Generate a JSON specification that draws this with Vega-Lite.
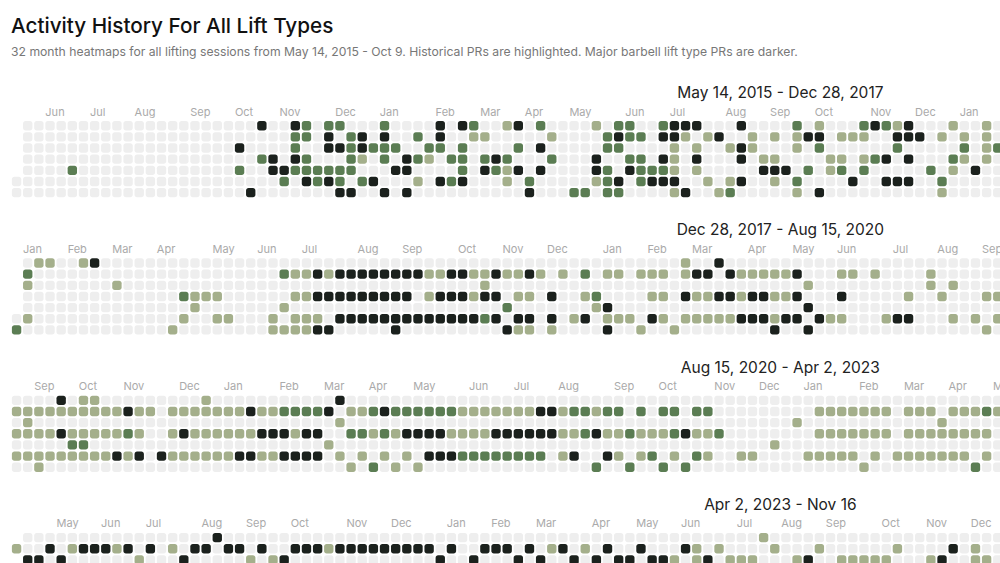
{
  "$schema": "https://vega.github.io/schema/vega-lite/v6.json",
  "padding": {"left": 11, "top": 16, "right": 0, "bottom": 0},
  "background": "#ffffff",
  "title": {
    "text": "Activity History For All Lift Types",
    "subtitle": "32 month heatmaps for all lifting sessions from May 14, 2015 - Oct 9. Historical PRs are highlighted. Major barbell lift type PRs are darker.",
    "anchor": "start",
    "font": "Inter",
    "fontSize": 20.7,
    "fontWeight": 500,
    "color": "#111111",
    "subtitleFont": "Inter",
    "subtitleFontSize": 12.2,
    "subtitleColor": "#777777",
    "subtitlePadding": 8,
    "offset": 27
  },
  "data": {"values": [
    {"p":1,"w":0,"th":0,"fr":0},
    {"p":1,"w":1,"sa":0,"su":0,"mo":0,"tu":0,"we":0,"th":0,"fr":0},
    {"p":1,"w":2,"sa":0,"su":0,"mo":0,"tu":0,"we":0,"th":0,"fr":0},
    {"p":1,"w":3,"m":"Jun","sa":0,"su":0,"mo":0,"tu":0,"we":0,"th":0,"fr":0},
    {"p":1,"w":4,"sa":0,"su":0,"mo":0,"tu":0,"we":0,"th":0,"fr":0},
    {"p":1,"w":5,"sa":0,"su":0,"mo":0,"tu":0,"we":2,"th":0,"fr":0},
    {"p":1,"w":6,"sa":0,"su":0,"mo":0,"tu":0,"we":0,"th":0,"fr":0},
    {"p":1,"w":7,"m":"Jul","sa":0,"su":0,"mo":0,"tu":0,"we":0,"th":0,"fr":0},
    {"p":1,"w":8,"sa":0,"su":0,"mo":0,"tu":0,"we":0,"th":0,"fr":0},
    {"p":1,"w":9,"sa":0,"su":0,"mo":0,"tu":0,"we":0,"th":0,"fr":0},
    {"p":1,"w":10,"sa":0,"su":0,"mo":0,"tu":0,"we":0,"th":0,"fr":0},
    {"p":1,"w":11,"m":"Aug","sa":0,"su":0,"mo":0,"tu":0,"we":0,"th":0,"fr":0},
    {"p":1,"w":12,"sa":0,"su":0,"mo":0,"tu":0,"we":0,"th":0,"fr":0},
    {"p":1,"w":13,"sa":0,"su":0,"mo":0,"tu":0,"we":0,"th":0,"fr":0},
    {"p":1,"w":14,"sa":0,"su":0,"mo":0,"tu":0,"we":0,"th":0,"fr":0},
    {"p":1,"w":15,"sa":0,"su":0,"mo":0,"tu":0,"we":0,"th":0,"fr":0},
    {"p":1,"w":16,"m":"Sep","sa":0,"su":0,"mo":0,"tu":0,"we":0,"th":0,"fr":0},
    {"p":1,"w":17,"sa":0,"su":0,"mo":0,"tu":0,"we":0,"th":0,"fr":0},
    {"p":1,"w":18,"sa":0,"su":0,"mo":0,"tu":0,"we":0,"th":0,"fr":0},
    {"p":1,"w":19,"sa":0,"su":0,"mo":0,"tu":0,"we":0,"th":0,"fr":0},
    {"p":1,"w":20,"m":"Oct","sa":0,"su":0,"mo":3,"tu":0,"we":2,"th":0,"fr":0},
    {"p":1,"w":21,"sa":0,"su":0,"mo":0,"tu":0,"we":0,"th":0,"fr":3},
    {"p":1,"w":22,"sa":3,"su":0,"mo":0,"tu":2,"we":0,"th":0,"fr":0},
    {"p":1,"w":23,"sa":0,"su":0,"mo":0,"tu":3,"we":3,"th":0,"fr":0},
    {"p":1,"w":24,"m":"Nov","sa":0,"su":0,"mo":0,"tu":0,"we":3,"th":2,"fr":0},
    {"p":1,"w":25,"sa":3,"su":2,"mo":2,"tu":3,"we":2,"th":0,"fr":0},
    {"p":1,"w":26,"sa":2,"su":2,"mo":0,"tu":2,"we":2,"th":3,"fr":0},
    {"p":1,"w":27,"sa":0,"su":0,"mo":0,"tu":0,"we":2,"th":2,"fr":0},
    {"p":1,"w":28,"sa":2,"su":3,"mo":3,"tu":0,"we":2,"th":3,"fr":0},
    {"p":1,"w":29,"m":"Dec","sa":2,"su":0,"mo":3,"tu":0,"we":2,"th":2,"fr":3},
    {"p":1,"w":30,"sa":0,"su":2,"mo":2,"tu":2,"we":2,"th":0,"fr":3},
    {"p":1,"w":31,"sa":0,"su":3,"mo":3,"tu":1,"we":0,"th":2,"fr":0},
    {"p":1,"w":32,"sa":0,"su":0,"mo":2,"tu":0,"we":0,"th":3,"fr":0},
    {"p":1,"w":33,"m":"Jan","sa":2,"su":3,"mo":2,"tu":2,"we":0,"th":0,"fr":3},
    {"p":1,"w":34,"sa":0,"su":0,"mo":2,"tu":0,"we":3,"th":0,"fr":0},
    {"p":1,"w":35,"sa":0,"su":0,"mo":0,"tu":3,"we":3,"th":0,"fr":3},
    {"p":1,"w":36,"sa":0,"su":2,"mo":0,"tu":2,"we":0,"th":1,"fr":0},
    {"p":1,"w":37,"sa":0,"su":0,"mo":2,"tu":1,"we":0,"th":0,"fr":0},
    {"p":1,"w":38,"m":"Feb","sa":3,"su":3,"mo":2,"tu":0,"we":0,"th":3,"fr":0},
    {"p":1,"w":39,"sa":0,"su":0,"mo":0,"tu":2,"we":0,"th":2,"fr":0},
    {"p":1,"w":40,"sa":3,"su":0,"mo":2,"tu":2,"we":2,"th":3,"fr":0},
    {"p":1,"w":41,"sa":2,"su":1,"mo":0,"tu":0,"we":0,"th":0,"fr":0},
    {"p":1,"w":42,"m":"Mar","sa":0,"su":1,"mo":0,"tu":2,"we":3,"th":0,"fr":0},
    {"p":1,"w":43,"sa":0,"su":0,"mo":0,"tu":3,"we":2,"th":0,"fr":0},
    {"p":1,"w":44,"sa":1,"su":0,"mo":0,"tu":2,"we":1,"th":1,"fr":0},
    {"p":1,"w":45,"sa":3,"su":0,"mo":2,"tu":0,"we":3,"th":0,"fr":0},
    {"p":1,"w":46,"m":"Apr","sa":0,"su":0,"mo":0,"tu":0,"we":0,"th":2,"fr":3},
    {"p":1,"w":47,"sa":2,"su":0,"mo":3,"tu":0,"we":3,"th":0,"fr":0},
    {"p":1,"w":48,"sa":0,"su":1,"mo":0,"tu":2,"we":0,"th":0,"fr":0},
    {"p":1,"w":49,"sa":0,"su":0,"mo":0,"tu":0,"we":0,"th":0,"fr":0},
    {"p":1,"w":50,"m":"May","sa":0,"su":0,"mo":0,"tu":0,"we":0,"th":0,"fr":2},
    {"p":1,"w":51,"sa":0,"su":0,"mo":0,"tu":0,"we":0,"th":0,"fr":2},
    {"p":1,"w":52,"sa":1,"su":0,"mo":0,"tu":3,"we":3,"th":1,"fr":0},
    {"p":1,"w":53,"sa":0,"su":2,"mo":2,"tu":0,"we":2,"th":2,"fr":2},
    {"p":1,"w":54,"sa":2,"su":3,"mo":2,"tu":0,"we":0,"th":3,"fr":2},
    {"p":1,"w":55,"m":"Jun","sa":2,"su":2,"mo":0,"tu":2,"we":3,"th":0,"fr":0},
    {"p":1,"w":56,"sa":0,"su":2,"mo":0,"tu":2,"we":2,"th":2,"fr":0},
    {"p":1,"w":57,"sa":0,"su":0,"mo":0,"tu":0,"we":2,"th":3,"fr":0},
    {"p":1,"w":58,"sa":2,"su":3,"mo":0,"tu":3,"we":2,"th":3,"fr":0},
    {"p":1,"w":59,"m":"Jul","sa":3,"su":3,"mo":1,"tu":1,"we":1,"th":3,"fr":1},
    {"p":1,"w":60,"sa":3,"su":1,"mo":0,"tu":0,"we":0,"th":0,"fr":3},
    {"p":1,"w":61,"sa":3,"su":0,"mo":1,"tu":3,"we":1,"th":0,"fr":0},
    {"p":1,"w":62,"sa":0,"su":1,"mo":0,"tu":0,"we":0,"th":1,"fr":0},
    {"p":1,"w":63,"sa":0,"su":3,"mo":0,"tu":0,"we":0,"th":0,"fr":1},
    {"p":1,"w":64,"m":"Aug","sa":0,"su":0,"mo":1,"tu":0,"we":0,"th":1,"fr":2},
    {"p":1,"w":65,"sa":3,"su":0,"mo":3,"tu":3,"we":0,"th":3,"fr":0},
    {"p":1,"w":66,"sa":0,"su":1,"mo":1,"tu":0,"we":0,"th":0,"fr":0},
    {"p":1,"w":67,"sa":0,"su":0,"mo":0,"tu":1,"we":3,"th":0,"fr":0},
    {"p":1,"w":68,"m":"Sep","sa":0,"su":1,"mo":0,"tu":1,"we":3,"th":1,"fr":0},
    {"p":1,"w":69,"sa":0,"su":0,"mo":0,"tu":0,"we":3,"th":0,"fr":0},
    {"p":1,"w":70,"sa":2,"su":1,"mo":1,"tu":0,"we":0,"th":2,"fr":1},
    {"p":1,"w":71,"sa":0,"su":3,"mo":0,"tu":0,"we":2,"th":0,"fr":0},
    {"p":1,"w":72,"m":"Oct","sa":1,"su":3,"mo":2,"tu":0,"we":0,"th":0,"fr":3},
    {"p":1,"w":73,"sa":0,"su":0,"mo":0,"tu":1,"we":1,"th":0,"fr":0},
    {"p":1,"w":74,"sa":0,"su":1,"mo":0,"tu":1,"we":2,"th":0,"fr":0},
    {"p":1,"w":75,"sa":0,"su":1,"mo":0,"tu":0,"we":0,"th":3,"fr":0},
    {"p":1,"w":76,"sa":2,"su":1,"mo":0,"tu":1,"we":2,"th":0,"fr":0},
    {"p":1,"w":77,"m":"Nov","sa":3,"su":0,"mo":0,"tu":2,"we":0,"th":0,"fr":0},
    {"p":1,"w":78,"sa":2,"su":0,"mo":0,"tu":3,"we":0,"th":3,"fr":0},
    {"p":1,"w":79,"sa":1,"su":3,"mo":2,"tu":0,"we":0,"th":3,"fr":0},
    {"p":1,"w":80,"sa":3,"su":3,"mo":0,"tu":3,"we":0,"th":3,"fr":0},
    {"p":1,"w":81,"m":"Dec","sa":0,"su":3,"mo":0,"tu":0,"we":0,"th":0,"fr":0},
    {"p":1,"w":82,"sa":0,"su":0,"mo":0,"tu":0,"we":2,"th":0,"fr":0},
    {"p":1,"w":83,"sa":0,"su":1,"mo":0,"tu":0,"we":0,"th":2,"fr":1},
    {"p":1,"w":84,"sa":1,"su":0,"mo":0,"tu":2,"we":1,"th":0,"fr":0},
    {"p":1,"w":85,"m":"Jan","sa":0,"su":1,"mo":2,"tu":1,"we":0,"th":0,"fr":0},
    {"p":1,"w":86,"sa":0,"su":0,"mo":0,"tu":0,"we":3,"th":0,"fr":0},
    {"p":1,"w":87,"sa":1,"su":1,"mo":1,"tu":1,"we":0,"th":0,"fr":0},
    {"p":1,"w":88,"sa":0,"su":0,"mo":2,"tu":0,"we":0,"th":0,"fr":0},

    {"p":2,"w":0,"th":0,"fr":2},
    {"p":2,"w":1,"m":"Jan","sa":0,"su":2,"mo":1,"tu":0,"we":0,"th":1,"fr":0},
    {"p":2,"w":2,"sa":1,"su":0,"mo":0,"tu":0,"we":0,"th":0,"fr":0},
    {"p":2,"w":3,"sa":1,"su":0,"mo":0,"tu":0,"we":0,"th":0,"fr":0},
    {"p":2,"w":4,"sa":0,"su":0,"mo":0,"tu":0,"we":0,"th":0,"fr":0},
    {"p":2,"w":5,"m":"Feb","sa":0,"su":0,"mo":0,"tu":0,"we":0,"th":0,"fr":0},
    {"p":2,"w":6,"sa":1,"su":0,"mo":0,"tu":0,"we":0,"th":0,"fr":0},
    {"p":2,"w":7,"sa":3,"su":0,"mo":0,"tu":0,"we":0,"th":0,"fr":0},
    {"p":2,"w":8,"sa":0,"su":0,"mo":0,"tu":0,"we":0,"th":0,"fr":0},
    {"p":2,"w":9,"m":"Mar","sa":0,"su":0,"mo":1,"tu":0,"we":0,"th":0,"fr":0},
    {"p":2,"w":10,"sa":0,"su":0,"mo":0,"tu":0,"we":0,"th":0,"fr":0},
    {"p":2,"w":11,"sa":0,"su":0,"mo":0,"tu":0,"we":0,"th":0,"fr":0},
    {"p":2,"w":12,"sa":0,"su":0,"mo":0,"tu":0,"we":0,"th":0,"fr":0},
    {"p":2,"w":13,"m":"Apr","sa":0,"su":0,"mo":0,"tu":0,"we":0,"th":0,"fr":0},
    {"p":2,"w":14,"sa":0,"su":0,"mo":0,"tu":0,"we":0,"th":0,"fr":1},
    {"p":2,"w":15,"sa":0,"su":0,"mo":0,"tu":2,"we":0,"th":1,"fr":0},
    {"p":2,"w":16,"sa":0,"su":0,"mo":0,"tu":1,"we":1,"th":0,"fr":0},
    {"p":2,"w":17,"sa":0,"su":0,"mo":0,"tu":1,"we":0,"th":0,"fr":0},
    {"p":2,"w":18,"m":"May","sa":0,"su":0,"mo":0,"tu":1,"we":0,"th":1,"fr":0},
    {"p":2,"w":19,"sa":0,"su":0,"mo":0,"tu":0,"we":0,"th":1,"fr":0},
    {"p":2,"w":20,"sa":0,"su":0,"mo":0,"tu":0,"we":0,"th":0,"fr":0},
    {"p":2,"w":21,"sa":0,"su":0,"mo":0,"tu":0,"we":0,"th":0,"fr":0},
    {"p":2,"w":22,"m":"Jun","sa":0,"su":0,"mo":0,"tu":0,"we":0,"th":0,"fr":0},
    {"p":2,"w":23,"sa":0,"su":0,"mo":0,"tu":0,"we":0,"th":1,"fr":1},
    {"p":2,"w":24,"sa":0,"su":2,"mo":0,"tu":0,"we":1,"th":0,"fr":1},
    {"p":2,"w":25,"sa":0,"su":1,"mo":0,"tu":1,"we":0,"th":1,"fr":1},
    {"p":2,"w":26,"m":"Jul","sa":0,"su":1,"mo":0,"tu":1,"we":0,"th":1,"fr":1},
    {"p":2,"w":27,"sa":0,"su":3,"mo":0,"tu":3,"we":0,"th":1,"fr":3},
    {"p":2,"w":28,"sa":0,"su":1,"mo":0,"tu":3,"we":0,"th":0,"fr":3},
    {"p":2,"w":29,"sa":0,"su":3,"mo":0,"tu":3,"we":0,"th":3,"fr":0},
    {"p":2,"w":30,"sa":0,"su":3,"mo":0,"tu":3,"we":0,"th":3,"fr":0},
    {"p":2,"w":31,"m":"Aug","sa":0,"su":3,"mo":0,"tu":3,"we":0,"th":3,"fr":0},
    {"p":2,"w":32,"sa":0,"su":3,"mo":0,"tu":3,"we":0,"th":3,"fr":0},
    {"p":2,"w":33,"sa":0,"su":3,"mo":0,"tu":3,"we":0,"th":3,"fr":0},
    {"p":2,"w":34,"sa":0,"su":3,"mo":0,"tu":3,"we":0,"th":3,"fr":3},
    {"p":2,"w":35,"m":"Sep","sa":0,"su":3,"mo":0,"tu":3,"we":0,"th":3,"fr":0},
    {"p":2,"w":36,"sa":0,"su":3,"mo":0,"tu":0,"we":0,"th":3,"fr":0},
    {"p":2,"w":37,"sa":0,"su":1,"mo":0,"tu":1,"we":0,"th":3,"fr":0},
    {"p":2,"w":38,"sa":0,"su":1,"mo":0,"tu":3,"we":0,"th":3,"fr":0},
    {"p":2,"w":39,"sa":0,"su":3,"mo":0,"tu":3,"we":0,"th":3,"fr":0},
    {"p":2,"w":40,"m":"Oct","sa":0,"su":3,"mo":0,"tu":3,"we":0,"th":3,"fr":0},
    {"p":2,"w":41,"sa":0,"su":1,"mo":0,"tu":1,"we":0,"th":3,"fr":0},
    {"p":2,"w":42,"sa":0,"su":1,"mo":1,"tu":3,"we":0,"th":2,"fr":0},
    {"p":2,"w":43,"sa":0,"su":3,"mo":0,"tu":3,"we":0,"th":3,"fr":0},
    {"p":2,"w":44,"m":"Nov","sa":0,"su":1,"mo":0,"tu":0,"we":2,"th":0,"fr":3},
    {"p":2,"w":45,"sa":0,"su":1,"mo":0,"tu":1,"we":0,"th":3,"fr":1},
    {"p":2,"w":46,"sa":0,"su":3,"mo":0,"tu":1,"we":0,"th":3,"fr":1},
    {"p":2,"w":47,"sa":0,"su":1,"mo":0,"tu":0,"we":0,"th":0,"fr":0},
    {"p":2,"w":48,"m":"Dec","sa":0,"su":0,"mo":0,"tu":3,"we":0,"th":3,"fr":1},
    {"p":2,"w":49,"sa":0,"su":1,"mo":0,"tu":0,"we":0,"th":0,"fr":0},
    {"p":2,"w":50,"sa":0,"su":0,"mo":0,"tu":0,"we":0,"th":1,"fr":0},
    {"p":2,"w":51,"sa":0,"su":2,"mo":0,"tu":1,"we":0,"th":3,"fr":0},
    {"p":2,"w":52,"sa":0,"su":0,"mo":0,"tu":2,"we":1,"th":0,"fr":0},
    {"p":2,"w":53,"m":"Jan","sa":0,"su":1,"mo":0,"tu":0,"we":3,"th":1,"fr":3},
    {"p":2,"w":54,"sa":0,"su":1,"mo":0,"tu":0,"we":0,"th":1,"fr":0},
    {"p":2,"w":55,"sa":0,"su":0,"mo":0,"tu":0,"we":0,"th":1,"fr":0},
    {"p":2,"w":56,"sa":0,"su":1,"mo":0,"tu":0,"we":0,"th":0,"fr":1},
    {"p":2,"w":57,"m":"Feb","sa":0,"su":1,"mo":0,"tu":1,"we":0,"th":3,"fr":0},
    {"p":2,"w":58,"sa":0,"su":1,"mo":0,"tu":1,"we":0,"th":1,"fr":0},
    {"p":2,"w":59,"sa":0,"su":0,"mo":0,"tu":0,"we":0,"th":0,"fr":1},
    {"p":2,"w":60,"sa":1,"su":1,"mo":0,"tu":3,"we":0,"th":1,"fr":0},
    {"p":2,"w":61,"m":"Mar","sa":0,"su":3,"mo":0,"tu":1,"we":0,"th":1,"fr":0},
    {"p":2,"w":62,"sa":0,"su":3,"mo":0,"tu":1,"we":0,"th":1,"fr":0},
    {"p":2,"w":63,"sa":3,"su":0,"mo":0,"tu":3,"we":0,"th":1,"fr":0},
    {"p":2,"w":64,"sa":0,"su":3,"mo":0,"tu":3,"we":0,"th":1,"fr":0},
    {"p":2,"w":65,"sa":0,"su":1,"mo":0,"tu":1,"we":0,"th":3,"fr":0},
    {"p":2,"w":66,"m":"Apr","sa":0,"su":1,"mo":0,"tu":3,"we":0,"th":3,"fr":0},
    {"p":2,"w":67,"sa":0,"su":1,"mo":0,"tu":3,"we":0,"th":3,"fr":0},
    {"p":2,"w":68,"sa":0,"su":1,"mo":0,"tu":1,"we":0,"th":1,"fr":3},
    {"p":2,"w":69,"sa":0,"su":1,"mo":0,"tu":1,"we":0,"th":3,"fr":0},
    {"p":2,"w":70,"m":"May","sa":0,"su":3,"mo":0,"tu":3,"we":0,"th":3,"fr":0},
    {"p":2,"w":71,"sa":0,"su":0,"mo":1,"tu":0,"we":3,"th":0,"fr":3},
    {"p":2,"w":72,"sa":0,"su":0,"mo":0,"tu":0,"we":0,"th":3,"fr":0},
    {"p":2,"w":73,"sa":0,"su":0,"mo":0,"tu":0,"we":0,"th":1,"fr":0},
    {"p":2,"w":74,"m":"Jun","sa":0,"su":1,"mo":0,"tu":3,"we":0,"th":1,"fr":0},
    {"p":2,"w":75,"sa":0,"su":1,"mo":0,"tu":0,"we":0,"th":0,"fr":0},
    {"p":2,"w":76,"sa":0,"su":0,"mo":0,"tu":0,"we":0,"th":0,"fr":0},
    {"p":2,"w":77,"sa":0,"su":1,"mo":0,"tu":0,"we":0,"th":0,"fr":0},
    {"p":2,"w":78,"sa":0,"su":0,"mo":0,"tu":0,"we":0,"th":1,"fr":0},
    {"p":2,"w":79,"m":"Jul","sa":0,"su":0,"mo":0,"tu":0,"we":0,"th":3,"fr":0},
    {"p":2,"w":80,"sa":0,"su":0,"mo":0,"tu":1,"we":0,"th":3,"fr":0},
    {"p":2,"w":81,"sa":0,"su":0,"mo":0,"tu":0,"we":0,"th":0,"fr":0},
    {"p":2,"w":82,"sa":0,"su":1,"mo":1,"tu":0,"we":0,"th":0,"fr":0},
    {"p":2,"w":83,"m":"Aug","sa":0,"su":0,"mo":0,"tu":1,"we":0,"th":0,"fr":0},
    {"p":2,"w":84,"sa":0,"su":0,"mo":1,"tu":0,"we":0,"th":1,"fr":0},
    {"p":2,"w":85,"sa":0,"su":0,"mo":0,"tu":0,"we":0,"th":0,"fr":0},
    {"p":2,"w":86,"sa":0,"su":0,"mo":0,"tu":0,"we":0,"th":1,"fr":0},
    {"p":2,"w":87,"m":"Sep","sa":0,"su":0,"mo":0,"tu":1,"we":0,"th":0,"fr":1},
    {"p":2,"w":88,"sa":0,"su":0,"mo":0,"tu":1,"we":0,"th":1,"fr":0},

    {"p":3,"w":0,"sa":0,"su":1,"mo":0,"tu":1,"we":0,"th":1,"fr":0},
    {"p":3,"w":1,"sa":0,"su":1,"mo":1,"tu":1,"we":0,"th":1,"fr":0},
    {"p":3,"w":2,"m":"Sep","sa":0,"su":1,"mo":0,"tu":1,"we":0,"th":1,"fr":1},
    {"p":3,"w":3,"sa":0,"su":1,"mo":0,"tu":1,"we":0,"th":1,"fr":0},
    {"p":3,"w":4,"sa":3,"su":1,"mo":0,"tu":3,"we":0,"th":1,"fr":0},
    {"p":3,"w":5,"sa":0,"su":1,"mo":0,"tu":1,"we":2,"th":1,"fr":0},
    {"p":3,"w":6,"m":"Oct","sa":1,"su":1,"mo":0,"tu":1,"we":2,"th":1,"fr":0},
    {"p":3,"w":7,"sa":1,"su":1,"mo":0,"tu":1,"we":0,"th":1,"fr":0},
    {"p":3,"w":8,"sa":0,"su":1,"mo":0,"tu":1,"we":0,"th":1,"fr":0},
    {"p":3,"w":9,"sa":0,"su":1,"mo":0,"tu":1,"we":0,"th":3,"fr":0},
    {"p":3,"w":10,"m":"Nov","sa":0,"su":3,"mo":0,"tu":2,"we":0,"th":1,"fr":0},
    {"p":3,"w":11,"sa":0,"su":1,"mo":0,"tu":1,"we":0,"th":3,"fr":0},
    {"p":3,"w":12,"sa":0,"su":1,"mo":0,"tu":0,"we":0,"th":0,"fr":0},
    {"p":3,"w":13,"sa":0,"su":0,"mo":0,"tu":0,"we":0,"th":3,"fr":0},
    {"p":3,"w":14,"sa":0,"su":1,"mo":0,"tu":1,"we":0,"th":1,"fr":0},
    {"p":3,"w":15,"m":"Dec","sa":0,"su":1,"mo":0,"tu":3,"we":0,"th":1,"fr":0},
    {"p":3,"w":16,"sa":0,"su":1,"mo":0,"tu":1,"we":0,"th":1,"fr":0},
    {"p":3,"w":17,"sa":1,"su":1,"mo":0,"tu":1,"we":0,"th":1,"fr":0},
    {"p":3,"w":18,"sa":0,"su":1,"mo":0,"tu":1,"we":0,"th":1,"fr":0},
    {"p":3,"w":19,"m":"Jan","sa":0,"su":1,"mo":0,"tu":1,"we":0,"th":1,"fr":0},
    {"p":3,"w":20,"sa":0,"su":1,"mo":0,"tu":1,"we":0,"th":3,"fr":0},
    {"p":3,"w":21,"sa":0,"su":3,"mo":0,"tu":1,"we":0,"th":3,"fr":0},
    {"p":3,"w":22,"sa":0,"su":1,"mo":0,"tu":3,"we":0,"th":1,"fr":0},
    {"p":3,"w":23,"sa":0,"su":1,"mo":0,"tu":3,"we":0,"th":1,"fr":0},
    {"p":3,"w":24,"m":"Feb","sa":0,"su":2,"mo":0,"tu":3,"we":0,"th":3,"fr":0},
    {"p":3,"w":25,"sa":0,"su":2,"mo":0,"tu":1,"we":0,"th":3,"fr":0},
    {"p":3,"w":26,"sa":0,"su":2,"mo":0,"tu":3,"we":0,"th":3,"fr":0},
    {"p":3,"w":27,"sa":0,"su":2,"mo":0,"tu":3,"we":0,"th":3,"fr":0},
    {"p":3,"w":28,"m":"Mar","sa":0,"su":3,"mo":0,"tu":0,"we":1,"th":0,"fr":0},
    {"p":3,"w":29,"sa":3,"su":0,"mo":1,"tu":0,"we":0,"th":1,"fr":0},
    {"p":3,"w":30,"sa":0,"su":1,"mo":0,"tu":2,"we":0,"th":0,"fr":1},
    {"p":3,"w":31,"sa":0,"su":1,"mo":0,"tu":2,"we":0,"th":1,"fr":0},
    {"p":3,"w":32,"m":"Apr","sa":0,"su":2,"mo":0,"tu":1,"we":0,"th":0,"fr":2},
    {"p":3,"w":33,"sa":0,"su":3,"mo":0,"tu":2,"we":0,"th":1,"fr":0},
    {"p":3,"w":34,"sa":0,"su":2,"mo":0,"tu":1,"we":0,"th":0,"fr":1},
    {"p":3,"w":35,"sa":0,"su":2,"mo":0,"tu":3,"we":0,"th":1,"fr":0},
    {"p":3,"w":36,"m":"May","sa":0,"su":2,"mo":0,"tu":3,"we":0,"th":0,"fr":1},
    {"p":3,"w":37,"sa":0,"su":2,"mo":0,"tu":3,"we":0,"th":3,"fr":0},
    {"p":3,"w":38,"sa":0,"su":2,"mo":0,"tu":3,"we":0,"th":3,"fr":0},
    {"p":3,"w":39,"sa":0,"su":2,"mo":0,"tu":1,"we":0,"th":3,"fr":0},
    {"p":3,"w":40,"sa":0,"su":1,"mo":0,"tu":1,"we":0,"th":2,"fr":0},
    {"p":3,"w":41,"m":"Jun","sa":0,"su":1,"mo":0,"tu":1,"we":0,"th":2,"fr":0},
    {"p":3,"w":42,"sa":0,"su":1,"mo":0,"tu":1,"we":0,"th":2,"fr":0},
    {"p":3,"w":43,"sa":0,"su":1,"mo":0,"tu":3,"we":0,"th":2,"fr":0},
    {"p":3,"w":44,"sa":0,"su":1,"mo":0,"tu":3,"we":0,"th":2,"fr":0},
    {"p":3,"w":45,"m":"Jul","sa":0,"su":1,"mo":0,"tu":3,"we":0,"th":2,"fr":0},
    {"p":3,"w":46,"sa":0,"su":1,"mo":0,"tu":3,"we":0,"th":2,"fr":0},
    {"p":3,"w":47,"sa":0,"su":3,"mo":0,"tu":3,"we":0,"th":2,"fr":0},
    {"p":3,"w":48,"sa":0,"su":3,"mo":0,"tu":3,"we":0,"th":0,"fr":0},
    {"p":3,"w":49,"m":"Aug","sa":0,"su":1,"mo":0,"tu":1,"we":0,"th":1,"fr":0},
    {"p":3,"w":50,"sa":0,"su":2,"mo":0,"tu":1,"we":0,"th":3,"fr":0},
    {"p":3,"w":51,"sa":0,"su":2,"mo":0,"tu":2,"we":0,"th":0,"fr":0},
    {"p":3,"w":52,"sa":0,"su":1,"mo":0,"tu":3,"we":0,"th":0,"fr":2},
    {"p":3,"w":53,"sa":0,"su":2,"mo":0,"tu":1,"we":0,"th":3,"fr":0},
    {"p":3,"w":54,"m":"Sep","sa":0,"su":2,"mo":0,"tu":1,"we":0,"th":1,"fr":0},
    {"p":3,"w":55,"sa":0,"su":0,"mo":0,"tu":2,"we":0,"th":0,"fr":2},
    {"p":3,"w":56,"sa":0,"su":2,"mo":0,"tu":1,"we":0,"th":1,"fr":0},
    {"p":3,"w":57,"sa":0,"su":0,"mo":0,"tu":1,"we":0,"th":2,"fr":0},
    {"p":3,"w":58,"m":"Oct","sa":0,"su":2,"mo":0,"tu":1,"we":0,"th":0,"fr":2},
    {"p":3,"w":59,"sa":0,"su":2,"mo":0,"tu":2,"we":0,"th":1,"fr":0},
    {"p":3,"w":60,"sa":0,"su":0,"mo":0,"tu":3,"we":0,"th":0,"fr":2},
    {"p":3,"w":61,"sa":0,"su":2,"mo":0,"tu":1,"we":0,"th":2,"fr":0},
    {"p":3,"w":62,"sa":0,"su":2,"mo":0,"tu":1,"we":0,"th":1,"fr":0},
    {"p":3,"w":63,"m":"Nov","sa":0,"su":0,"mo":0,"tu":2,"we":0,"th":0,"fr":0},
    {"p":3,"w":64,"sa":0,"su":0,"mo":0,"tu":0,"we":0,"th":0,"fr":0},
    {"p":3,"w":65,"sa":0,"su":0,"mo":0,"tu":0,"we":0,"th":1,"fr":0},
    {"p":3,"w":66,"sa":0,"su":0,"mo":0,"tu":0,"we":0,"th":1,"fr":0},
    {"p":3,"w":67,"m":"Dec","sa":0,"su":0,"mo":0,"tu":0,"we":0,"th":0,"fr":0},
    {"p":3,"w":68,"sa":0,"su":0,"mo":0,"tu":0,"we":1,"th":0,"fr":0},
    {"p":3,"w":69,"sa":0,"su":0,"mo":0,"tu":0,"we":0,"th":0,"fr":0},
    {"p":3,"w":70,"sa":0,"su":0,"mo":1,"tu":0,"we":0,"th":0,"fr":0},
    {"p":3,"w":71,"m":"Jan","sa":0,"su":0,"mo":0,"tu":0,"we":0,"th":1,"fr":0},
    {"p":3,"w":72,"sa":0,"su":1,"mo":0,"tu":1,"we":0,"th":1,"fr":0},
    {"p":3,"w":73,"sa":0,"su":1,"mo":0,"tu":1,"we":0,"th":1,"fr":0},
    {"p":3,"w":74,"sa":0,"su":1,"mo":0,"tu":1,"we":0,"th":1,"fr":0},
    {"p":3,"w":75,"sa":0,"su":1,"mo":0,"tu":1,"we":0,"th":1,"fr":0},
    {"p":3,"w":76,"m":"Feb","sa":0,"su":1,"mo":0,"tu":1,"we":0,"th":0,"fr":1},
    {"p":3,"w":77,"sa":0,"su":1,"mo":0,"tu":1,"we":0,"th":1,"fr":0},
    {"p":3,"w":78,"sa":0,"su":1,"mo":0,"tu":1,"we":0,"th":0,"fr":0},
    {"p":3,"w":79,"sa":0,"su":0,"mo":0,"tu":0,"we":0,"th":1,"fr":0},
    {"p":3,"w":80,"m":"Mar","sa":0,"su":1,"mo":0,"tu":1,"we":0,"th":1,"fr":0},
    {"p":3,"w":81,"sa":0,"su":1,"mo":0,"tu":1,"we":0,"th":1,"fr":0},
    {"p":3,"w":82,"sa":0,"su":1,"mo":0,"tu":1,"we":0,"th":1,"fr":0},
    {"p":3,"w":83,"sa":0,"su":0,"mo":1,"tu":1,"we":0,"th":1,"fr":0},
    {"p":3,"w":84,"m":"Apr","sa":0,"su":1,"mo":0,"tu":1,"we":0,"th":1,"fr":0},
    {"p":3,"w":85,"sa":0,"su":1,"mo":0,"tu":1,"we":0,"th":1,"fr":0},
    {"p":3,"w":86,"sa":0,"su":1,"mo":0,"tu":1,"we":0,"th":0,"fr":2},
    {"p":3,"w":87,"sa":0,"su":2,"mo":0,"tu":1,"we":0,"th":1,"fr":0},
    {"p":3,"w":88,"m":"May","sa":0,"su":1,"mo":0,"tu":0,"we":0,"th":0,"fr":0},

    {"p":4,"w":0,"su":1},
    {"p":4,"w":1,"sa":0,"su":0,"mo":3,"tu":0,"we":0,"th":0,"fr":0},
    {"p":4,"w":2,"sa":0,"su":0,"mo":3,"tu":0,"we":0,"th":0,"fr":0},
    {"p":4,"w":3,"sa":0,"su":3,"mo":0,"tu":0,"we":0,"th":0,"fr":0},
    {"p":4,"w":4,"m":"May","sa":0,"su":0,"mo":3,"tu":0,"we":0,"th":0,"fr":0},
    {"p":4,"w":5,"sa":0,"su":1,"mo":0,"tu":0,"we":0,"th":0,"fr":0},
    {"p":4,"w":6,"sa":0,"su":3,"mo":0,"tu":0,"we":0,"th":0,"fr":0},
    {"p":4,"w":7,"sa":0,"su":3,"mo":0,"tu":0,"we":0,"th":0,"fr":0},
    {"p":4,"w":8,"m":"Jun","sa":0,"su":3,"mo":0,"tu":0,"we":0,"th":0,"fr":0},
    {"p":4,"w":9,"sa":0,"su":1,"mo":0,"tu":0,"we":0,"th":0,"fr":0},
    {"p":4,"w":10,"sa":0,"su":3,"mo":0,"tu":0,"we":0,"th":0,"fr":0},
    {"p":4,"w":11,"sa":0,"su":0,"mo":1,"tu":0,"we":0,"th":0,"fr":0},
    {"p":4,"w":12,"m":"Jul","sa":0,"su":3,"mo":0,"tu":0,"we":0,"th":0,"fr":0},
    {"p":4,"w":13,"sa":0,"su":0,"mo":0,"tu":0,"we":0,"th":0,"fr":0},
    {"p":4,"w":14,"sa":0,"su":1,"mo":0,"tu":0,"we":0,"th":0,"fr":0},
    {"p":4,"w":15,"sa":0,"su":0,"mo":3,"tu":0,"we":0,"th":0,"fr":0},
    {"p":4,"w":16,"sa":0,"su":3,"mo":0,"tu":0,"we":0,"th":0,"fr":0},
    {"p":4,"w":17,"m":"Aug","sa":0,"su":3,"mo":0,"tu":0,"we":0,"th":0,"fr":0},
    {"p":4,"w":18,"sa":3,"su":0,"mo":0,"tu":0,"we":0,"th":0,"fr":0},
    {"p":4,"w":19,"sa":0,"su":3,"mo":0,"tu":0,"we":0,"th":0,"fr":0},
    {"p":4,"w":20,"sa":0,"su":3,"mo":0,"tu":0,"we":0,"th":0,"fr":0},
    {"p":4,"w":21,"m":"Sep","sa":0,"su":0,"mo":1,"tu":0,"we":0,"th":0,"fr":0},
    {"p":4,"w":22,"sa":0,"su":3,"mo":0,"tu":0,"we":0,"th":0,"fr":0},
    {"p":4,"w":23,"sa":0,"su":0,"mo":1,"tu":0,"we":0,"th":0,"fr":0},
    {"p":4,"w":24,"sa":0,"su":0,"mo":3,"tu":0,"we":0,"th":0,"fr":0},
    {"p":4,"w":25,"m":"Oct","sa":0,"su":3,"mo":0,"tu":0,"we":0,"th":0,"fr":0},
    {"p":4,"w":26,"sa":0,"su":3,"mo":0,"tu":0,"we":0,"th":0,"fr":0},
    {"p":4,"w":27,"sa":0,"su":3,"mo":0,"tu":0,"we":0,"th":0,"fr":0},
    {"p":4,"w":28,"sa":0,"su":1,"mo":0,"tu":0,"we":0,"th":0,"fr":0},
    {"p":4,"w":29,"sa":0,"su":3,"mo":0,"tu":0,"we":0,"th":0,"fr":0},
    {"p":4,"w":30,"m":"Nov","sa":0,"su":3,"mo":0,"tu":0,"we":0,"th":0,"fr":0},
    {"p":4,"w":31,"sa":0,"su":3,"mo":0,"tu":0,"we":0,"th":0,"fr":0},
    {"p":4,"w":32,"sa":0,"su":3,"mo":0,"tu":0,"we":0,"th":0,"fr":0},
    {"p":4,"w":33,"sa":0,"su":3,"mo":0,"tu":0,"we":0,"th":0,"fr":0},
    {"p":4,"w":34,"m":"Dec","sa":0,"su":3,"mo":0,"tu":0,"we":0,"th":0,"fr":0},
    {"p":4,"w":35,"sa":0,"su":3,"mo":0,"tu":0,"we":0,"th":0,"fr":0},
    {"p":4,"w":36,"sa":0,"su":3,"mo":0,"tu":0,"we":0,"th":0,"fr":0},
    {"p":4,"w":37,"sa":0,"su":3,"mo":0,"tu":0,"we":0,"th":0,"fr":0},
    {"p":4,"w":38,"sa":0,"su":0,"mo":3,"tu":0,"we":0,"th":0,"fr":0},
    {"p":4,"w":39,"m":"Jan","sa":0,"su":3,"mo":0,"tu":0,"we":0,"th":0,"fr":0},
    {"p":4,"w":40,"sa":0,"su":0,"mo":0,"tu":0,"we":0,"th":0,"fr":0},
    {"p":4,"w":41,"sa":0,"su":0,"mo":3,"tu":0,"we":0,"th":0,"fr":0},
    {"p":4,"w":42,"sa":0,"su":3,"mo":0,"tu":0,"we":0,"th":0,"fr":0},
    {"p":4,"w":43,"m":"Feb","sa":0,"su":3,"mo":0,"tu":0,"we":0,"th":0,"fr":0},
    {"p":4,"w":44,"sa":0,"su":3,"mo":0,"tu":0,"we":0,"th":0,"fr":0},
    {"p":4,"w":45,"sa":0,"su":0,"mo":3,"tu":0,"we":0,"th":0,"fr":0},
    {"p":4,"w":46,"sa":0,"su":3,"mo":0,"tu":0,"we":0,"th":0,"fr":0},
    {"p":4,"w":47,"m":"Mar","sa":0,"su":0,"mo":3,"tu":0,"we":0,"th":0,"fr":0},
    {"p":4,"w":48,"sa":0,"su":1,"mo":0,"tu":0,"we":0,"th":0,"fr":0},
    {"p":4,"w":49,"sa":0,"su":3,"mo":0,"tu":0,"we":0,"th":0,"fr":0},
    {"p":4,"w":50,"sa":0,"su":0,"mo":3,"tu":0,"we":0,"th":0,"fr":0},
    {"p":4,"w":51,"sa":0,"su":1,"mo":0,"tu":0,"we":0,"th":0,"fr":0},
    {"p":4,"w":52,"m":"Apr","sa":0,"su":0,"mo":3,"tu":0,"we":0,"th":0,"fr":0},
    {"p":4,"w":53,"sa":0,"su":3,"mo":0,"tu":0,"we":0,"th":0,"fr":0},
    {"p":4,"w":54,"sa":0,"su":0,"mo":3,"tu":0,"we":0,"th":0,"fr":0},
    {"p":4,"w":55,"sa":0,"su":0,"mo":3,"tu":0,"we":0,"th":0,"fr":0},
    {"p":4,"w":56,"m":"May","sa":0,"su":3,"mo":0,"tu":0,"we":0,"th":0,"fr":0},
    {"p":4,"w":57,"sa":0,"su":0,"mo":3,"tu":0,"we":0,"th":0,"fr":0},
    {"p":4,"w":58,"sa":0,"su":0,"mo":3,"tu":0,"we":0,"th":0,"fr":0},
    {"p":4,"w":59,"sa":0,"su":0,"mo":1,"tu":0,"we":0,"th":0,"fr":0},
    {"p":4,"w":60,"m":"Jun","sa":0,"su":3,"mo":0,"tu":0,"we":0,"th":0,"fr":0},
    {"p":4,"w":61,"sa":0,"su":1,"mo":1,"tu":0,"we":0,"th":0,"fr":0},
    {"p":4,"w":62,"sa":0,"su":0,"mo":3,"tu":0,"we":0,"th":0,"fr":0},
    {"p":4,"w":63,"sa":0,"su":1,"mo":0,"tu":0,"we":0,"th":0,"fr":0},
    {"p":4,"w":64,"sa":0,"su":0,"mo":1,"tu":0,"we":0,"th":0,"fr":0},
    {"p":4,"w":65,"m":"Jul","sa":0,"su":0,"mo":1,"tu":0,"we":0,"th":0,"fr":0},
    {"p":4,"w":66,"sa":0,"su":0,"mo":1,"tu":0,"we":0,"th":0,"fr":0},
    {"p":4,"w":67,"sa":1,"su":0,"mo":0,"tu":0,"we":0,"th":0,"fr":0},
    {"p":4,"w":68,"sa":0,"su":1,"mo":0,"tu":0,"we":0,"th":0,"fr":0},
    {"p":4,"w":69,"m":"Aug","sa":0,"su":0,"mo":0,"tu":0,"we":0,"th":0,"fr":0},
    {"p":4,"w":70,"sa":0,"su":0,"mo":1,"tu":0,"we":0,"th":0,"fr":0},
    {"p":4,"w":71,"sa":0,"su":0,"mo":3,"tu":0,"we":0,"th":0,"fr":0},
    {"p":4,"w":72,"sa":0,"su":1,"mo":0,"tu":0,"we":0,"th":0,"fr":0},
    {"p":4,"w":73,"m":"Sep","sa":0,"su":0,"mo":0,"tu":0,"we":0,"th":0,"fr":0},
    {"p":4,"w":74,"sa":0,"su":0,"mo":1,"tu":0,"we":0,"th":0,"fr":0},
    {"p":4,"w":75,"sa":0,"su":0,"mo":1,"tu":0,"we":0,"th":0,"fr":0},
    {"p":4,"w":76,"sa":0,"su":0,"mo":1,"tu":0,"we":0,"th":0,"fr":0},
    {"p":4,"w":77,"sa":0,"su":0,"mo":1,"tu":0,"we":0,"th":0,"fr":0},
    {"p":4,"w":78,"m":"Oct","sa":0,"su":0,"mo":1,"tu":0,"we":0,"th":0,"fr":0},
    {"p":4,"w":79,"sa":0,"su":1,"mo":0,"tu":0,"we":0,"th":0,"fr":0},
    {"p":4,"w":80,"sa":0,"su":0,"mo":0,"tu":0,"we":0,"th":0,"fr":0},
    {"p":4,"w":81,"sa":0,"su":0,"mo":0,"tu":0,"we":0,"th":0,"fr":0},
    {"p":4,"w":82,"m":"Nov","sa":0,"su":0,"mo":1,"tu":0,"we":0,"th":0,"fr":0},
    {"p":4,"w":83,"sa":0,"su":0,"mo":3,"tu":0,"we":0,"th":0,"fr":0},
    {"p":4,"w":84,"sa":0,"su":3,"mo":0,"tu":0,"we":0,"th":0,"fr":0},
    {"p":4,"w":85,"sa":0,"su":0,"mo":0,"tu":0,"we":0,"th":0,"fr":0},
    {"p":4,"w":86,"m":"Dec","sa":0,"su":1,"mo":1,"tu":0,"we":0,"th":0,"fr":0},
    {"p":4,"w":87,"sa":0,"su":0,"mo":1,"tu":0,"we":0,"th":0,"fr":0},
    {"p":4,"w":88,"sa":0,"su":0,"mo":0,"tu":0,"we":0,"th":0,"fr":0}
  ]},
  "facet": {
    "field": "p",
    "type": "ordinal",
    "title": null,
    "header": {
      "labelExpr": "['', 'May 14, 2015 - Dec 28, 2017', 'Dec 28, 2017 - Aug 15, 2020', 'Aug 15, 2020 - Apr 2, 2023', 'Apr 2, 2023 - Nov 16'][datum.value]",
      "labelFont": "Inter",
      "labelFontSize": 15.5,
      "labelColor": "#222222",
      "labelPadding": 5
    }
  },
  "columns": 1,
  "spacing": {"row": 24.3},
  "spec": {
    "width": 1538.7,
    "height": 89.2,
    "layer": [
      {
        "transform": [
          {"fold": ["sa", "su", "mo", "tu", "we", "th", "fr"], "as": ["day", "v"]},
          {"filter": "isValid(datum.v)"}
        ],
        "mark": {"type": "rect", "cornerRadius": 2.5},
        "encoding": {
          "x": {
            "field": "w",
            "type": "ordinal",
            "axis": null,
            "scale": {
              "domain": [0,1,2,3,4,5,6,7,8,9,10,11,12,13,14,15,16,17,18,19,20,21,22,23,24,25,26,27,28,29,30,31,32,33,34,35,36,37,38,39,40,41,42,43,44,45,46,47,48,49,50,51,52,53,54,55,56,57,58,59,60,61,62,63,64,65,66,67,68,69,70,71,72,73,74,75,76,77,78,79,80,81,82,83,84,85,86,87,88,89,90,91,92,93,94,95,96,97,98,99,100,101,102,103,104,105,106,107,108,109,110,111,112,113,114,115,116,117,118,119,120,121,122,123,124,125,126,127,128,129,130,131,132,133,134,135,136,137],
              "paddingInner": 0.16,
              "paddingOuter": 0.08
            }
          },
          "y": {
            "field": "day",
            "type": "ordinal",
            "axis": null,
            "scale": {
              "domain": ["lbl", "sa", "su", "mo", "tu", "we", "th", "fr"],
              "paddingInner": 0.16,
              "paddingOuter": 0.08
            }
          },
          "color": {
            "field": "v",
            "type": "ordinal",
            "legend": null,
            "scale": {
              "domain": [0, 1, 2, 3],
              "range": ["#eeeeee", "#a4af8b", "#5b7d53", "#1b211d"]
            }
          }
        }
      },
      {
        "transform": [{"filter": "isValid(datum.m)"}],
        "mark": {"type": "text", "align": "left", "baseline": "middle", "dy": -2, "font": "Inter", "fontSize": 11, "color": "#aaaaaa"},
        "encoding": {
          "x": {
            "field": "w",
            "type": "ordinal",
            "axis": null,
            "bandPosition": 0,
            "scale": {
              "domain": [0,1,2,3,4,5,6,7,8,9,10,11,12,13,14,15,16,17,18,19,20,21,22,23,24,25,26,27,28,29,30,31,32,33,34,35,36,37,38,39,40,41,42,43,44,45,46,47,48,49,50,51,52,53,54,55,56,57,58,59,60,61,62,63,64,65,66,67,68,69,70,71,72,73,74,75,76,77,78,79,80,81,82,83,84,85,86,87,88,89,90,91,92,93,94,95,96,97,98,99,100,101,102,103,104,105,106,107,108,109,110,111,112,113,114,115,116,117,118,119,120,121,122,123,124,125,126,127,128,129,130,131,132,133,134,135,136,137],
              "paddingInner": 0.16,
              "paddingOuter": 0.08
            }
          },
          "y": {
            "datum": "lbl",
            "type": "ordinal",
            "axis": null,
            "scale": {
              "domain": ["lbl", "sa", "su", "mo", "tu", "we", "th", "fr"],
              "paddingInner": 0.16,
              "paddingOuter": 0.08
            }
          },
          "text": {"field": "m"}
        }
      }
    ]
  },
  "config": {
    "view": {"stroke": null},
    "font": "Inter"
  }
}
